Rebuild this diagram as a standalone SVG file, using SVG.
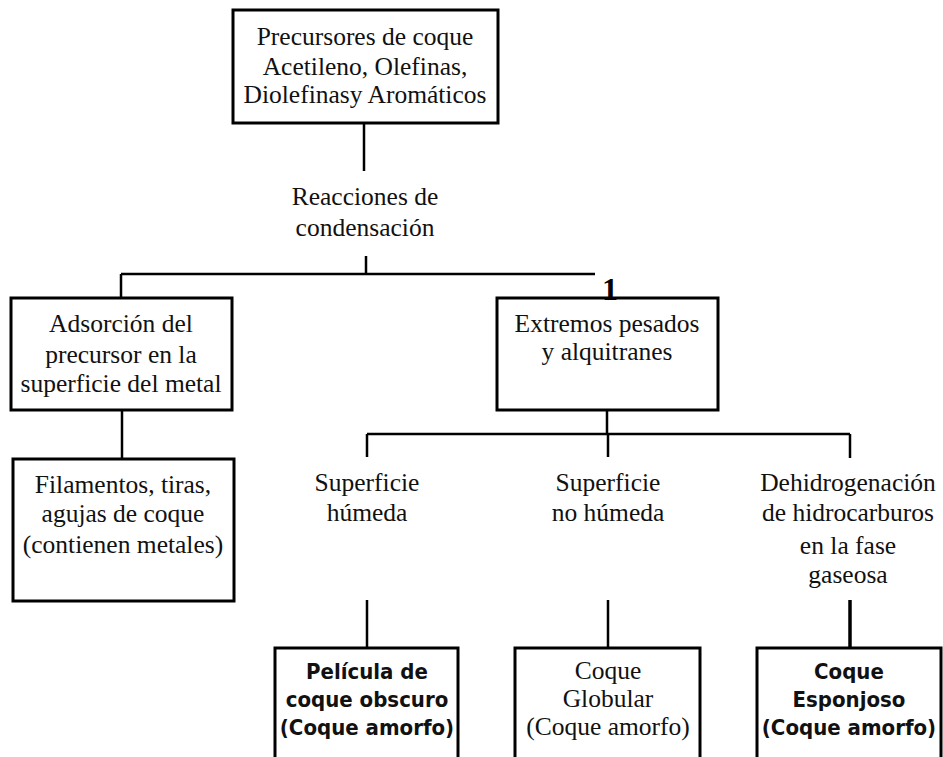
<svg xmlns="http://www.w3.org/2000/svg" width="943" height="757" viewBox="0 0 943 757">
<style>
.box{fill:#fff;stroke:#000;stroke-width:3}
.ln{fill:none;stroke:#000;stroke-width:2.5}
.t{font-family:"Liberation Serif","Times New Roman",serif;font-size:25.5px;fill:#111;text-anchor:middle}
.s{font-family:"Liberation Sans Narrow","DejaVu Sans Condensed","Liberation Sans",sans-serif;font-size:22px;fill:#111;text-anchor:middle;font-weight:bold}
.one{font-family:"Liberation Serif","Times New Roman",serif;font-size:32px;font-weight:bold;fill:#000;text-anchor:middle}
</style>
<rect width="943" height="757" fill="#fff"/>
<g id="connectors">
<path class="ln" d="M364 123V171"/>
<path class="ln" d="M366 256V274M121 274H595M121 274V298"/>
<path class="ln" d="M122 410V459"/>
<path class="ln" d="M607 410V434M367 434H850M367 434V457M608 434V457M850 434V458"/>
<path class="ln" d="M367 600V648M608 600V648"/>
<path class="ln" d="M850 600V648" style="stroke-width:3.5"/>
</g>
<g id="n-precursores">
<rect class="box" x="233" y="10" width="265" height="113"/>
<text class="t" x="365" y="45">Precursores de coque</text>
<text class="t" x="365" y="75">Acetileno, Olefinas,</text>
<text class="t" x="365" y="103">Diolefinasy Aromáticos</text>
</g>
<g id="n-reacciones">
<text class="t" x="365" y="205">Reacciones de</text>
<text class="t" x="365" y="236">condensación</text>
</g>
<g id="n-adsorcion">
<rect class="box" x="11" y="298" width="221" height="112"/>
<text class="t" x="121" y="332">Adsorción del</text>
<text class="t" x="121" y="363">precursor en la</text>
<text class="t" x="121" y="392">superficie del metal</text>
</g>
<g id="n-filamentos">
<rect class="box" x="13" y="459" width="221" height="142"/>
<text class="t" x="123" y="493">Filamentos, tiras,</text>
<text class="t" x="123" y="522">agujas de coque</text>
<text class="t" x="123" y="553">(contienen metales)</text>
</g>
<g id="n-extremos">
<rect class="box" x="497" y="298" width="221" height="112"/>
<text class="one" x="610" y="300">1</text>
<text class="t" x="607" y="332">Extremos pesados</text>
<text class="t" x="607" y="360">y alquitranes</text>
</g>
<g id="n-humeda">
<text class="t" x="367" y="491">Superficie</text>
<text class="t" x="367" y="521">húmeda</text>
</g>
<g id="n-nohumeda">
<text class="t" x="608" y="491">Superficie</text>
<text class="t" x="608" y="521">no húmeda</text>
</g>
<g id="n-dehidro">
<text class="t" x="848" y="491">Dehidrogenación</text>
<text class="t" x="848" y="521">de hidrocarburos</text>
<text class="t" x="848" y="554">en la fase</text>
<text class="t" x="848" y="583">gaseosa</text>
</g>
<g id="n-pelicula">
<rect class="box" x="275" y="648" width="183" height="130"/>
<text class="s" x="367" y="679">Película de</text>
<text class="s" x="367" y="707">coque obscuro</text>
<text class="s" x="367" y="735">(Coque amorfo)</text>
</g>
<g id="n-globular">
<rect class="box" x="515" y="648" width="185" height="130"/>
<text class="t" x="608" y="679">Coque</text>
<text class="t" x="608" y="707">Globular</text>
<text class="t" x="608" y="735">(Coque amorfo)</text>
</g>
<g id="n-esponjoso">
<rect class="box" x="757" y="648" width="184" height="130"/>
<text class="s" x="849" y="679">Coque</text>
<text class="s" x="849" y="707">Esponjoso</text>
<text class="s" x="849" y="735">(Coque amorfo)</text>
</g>
</svg>
